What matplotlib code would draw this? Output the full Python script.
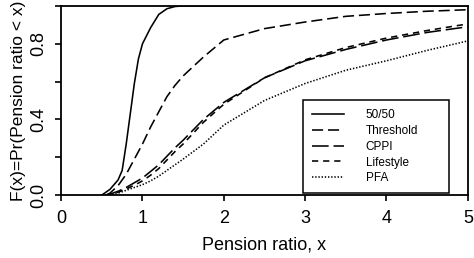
import matplotlib
matplotlib.use("Agg")
import matplotlib.pyplot as plt
from matplotlib.ticker import MultipleLocator

# values
x_5050 = [0.5, 0.6, 0.7, 0.75, 0.8, 0.85, 0.9, 0.95, 1.0, 1.1, 1.2, 1.3, 1.4, 1.5, 2.0, 3.0, 4.0, 5.0]
y_5050 = [0.0, 0.03, 0.08, 0.13, 0.27, 0.43, 0.59, 0.72, 0.80, 0.885, 0.955, 0.985, 0.997, 1.0, 1.0, 1.0, 1.0, 1.0]

x_curve = [0.55, 0.6, 0.7, 0.8, 0.9, 1.0, 1.1, 1.2, 1.3, 1.4, 1.5, 1.75, 2.0, 2.5, 3.0, 3.5, 4.0, 4.5, 5.0]
y_threshold = [0.0, 0.01, 0.05, 0.11, 0.19, 0.27, 0.36, 0.44, 0.52, 0.58, 0.63, 0.73, 0.82, 0.88, 0.915, 0.945, 0.96, 0.972, 0.98]
y_cppi = [0.0, 0.005, 0.02, 0.04, 0.065, 0.09, 0.125, 0.16, 0.205, 0.25, 0.29, 0.40, 0.49, 0.62, 0.71, 0.77, 0.82, 0.86, 0.89]
y_lifestyle = [0.0, 0.004, 0.015, 0.032, 0.052, 0.075, 0.105, 0.14, 0.185, 0.23, 0.27, 0.385, 0.48, 0.62, 0.715, 0.78, 0.83, 0.87, 0.905]
y_pfa = [0.0, 0.003, 0.01, 0.025, 0.04, 0.055, 0.075, 0.10, 0.13, 0.16, 0.19, 0.27, 0.37, 0.50, 0.59, 0.66, 0.71, 0.765, 0.815]

plt.rcParams["font.family"] = ["Liberation Sans", "DejaVu Sans"]
plt.rcParams["lines.scale_dashes"] = False

fig = plt.figure(figsize=(4.74, 2.58), dpi=100)
ax = fig.add_axes([0.129, 0.244, 0.858, 0.733])

lw = 1.15
ax.plot(x_5050, y_5050, color="black", lw=lw, label="50/50")
ax.plot(x_curve, y_threshold, color="black", lw=lw, dashes=(8, 3.5), label="Threshold")
ax.plot(x_curve, y_cppi, color="black", lw=lw, dashes=(12, 3.5), label="CPPI")
ax.plot(x_curve, y_lifestyle, color="black", lw=lw, dashes=(4.5, 3.5), label="Lifestyle")
ax.plot(x_curve, y_pfa, color="black", lw=lw, dashes=(1, 1.3), label="PFA")

ax.set_xlim(0, 5)
ax.set_ylim(0, 1)
ax.xaxis.set_major_locator(MultipleLocator(1))
ax.yaxis.set_minor_locator(MultipleLocator(0.2))
ax.set_yticks([0, 0.4, 0.8])
ax.set_yticklabels(["0.0", "0.4", "0.8"], rotation=90, va="center")
ax.tick_params(which="both", direction="out", length=4, width=1.2, labelsize=13)
ax.tick_params(axis="x", pad=6.5)
ax.tick_params(axis="y", pad=6)
for s in ax.spines.values():
    s.set_linewidth(1.3)

ax.set_xlabel("Pension ratio, x", fontsize=13, labelpad=7)
ax.set_ylabel("F(x)=Pr(Pension ratio < x)", fontsize=12.5, labelpad=3)

leg = ax.legend(loc="lower left", bbox_to_anchor=(0.595, 0.01, 0.359, 0.5), mode="expand",
                fontsize=8.5, frameon=True, fancybox=False, edgecolor="black", framealpha=1,
                handlelength=2.7, handletextpad=1.85, borderpad=0.75, labelspacing=0.32,
                borderaxespad=0)
leg.get_frame().set_linewidth(1.1)

fig.savefig("out.png", dpi=100)
